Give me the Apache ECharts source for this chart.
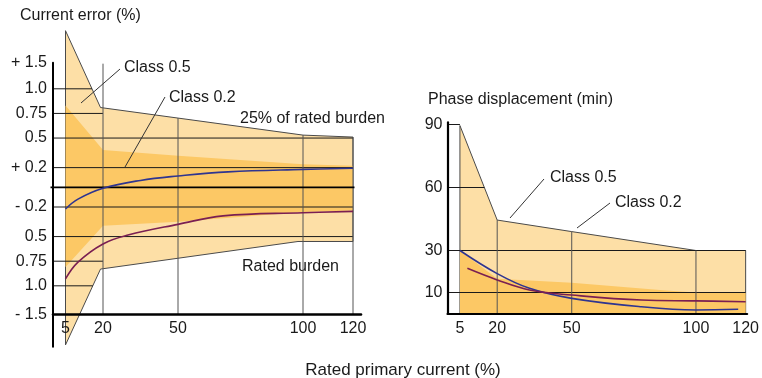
<!DOCTYPE html>
<html><head><meta charset="utf-8">
<script src="https://cdn.jsdelivr.net/npm/echarts@6/dist/echarts.min.js"></script>
<style>html,body{margin:0;padding:0;background:#fff}#c{width:762px;height:378px}</style>
</head><body><div id="c"></div>
<script>
// ---------------- data ----------------
const xTicks = [5, 20, 50, 100, 120];
const errTicks = [1.5, 1.0, 0.75, 0.5, 0.2, -0.2, -0.5, -0.75, -1.0, -1.5];
const errTickLabels = ['+ 1.5', '1.0', '0.75', '0.5', '+ 0.2', '- 0.2', '0.5', '0.75', '1.0', '- 1.5'];
const phaseTicks = [90, 60, 30, 10];
const phaseTickLabels = ['90', '60', '30', '10'];

// Current error (%)
const errClass05Upper = [[5, 1.59], [19, 0.81], [100, 0.53], [120, 0.51]];
const errClass05Lower = [[5, -1.60], [19, -0.83], [98, -0.55], [120, -0.55]];
const errClass02Upper = [[5, 0.83], [20, 0.38], [50, 0.32], [100, 0.235], [120, 0.22]];
const errClass02Lower = [[5, -0.81], [20, -0.39], [50, -0.35], [100, -0.25], [120, -0.235]];
const err25Burden = [[5, -0.22], [10, -0.12], [20, -0.01], [35, 0.07], [50, 0.115], [70, 0.157], [100, 0.182], [120, 0.193]];
const errRatedBurden = [[5, -0.93], [10, -0.76], [20, -0.575], [30, -0.485], [50, -0.376], [68, -0.29], [100, -0.258], [120, -0.244]];

// Phase displacement (min)
const phClass05Upper = [[5, 89.5], [20, 44.5], [50, 39], [100, 30], [120, 30]];
const phClass02Upper = [[5, 30], [20, 16.5], [50, 14.6], [88, 10.9], [100, 10], [120, 10]];
const phBlue = [[5, 30], [20, 19], [33, 12], [50, 7.2], [78, 3.2], [100, 1.7], [117, 2.0]];
const phPurple = [[8, 21.5], [20, 16], [33, 11.2], [50, 8.8], [78, 6.4], [100, 6.0], [120, 5.6]];

// ---------------- helpers ----------------
const FONT = "'Liberation Sans', Arial, Helvetica, sans-serif";
const LIGHT = '#FDDFA6', DARK = '#FCC865', EDGE = '#4a4a4a';
const BLUE = '#2f3590', PURPLE = '#7a1f52';
const ERR_AXIS_TOP = 1.265, ERR_AXIS_BASE = -1.293;

function interp(arr, x) {
  for (let i = 0; i < arr.length - 1; i++) {
    const a = arr[i], b = arr[i + 1];
    if (x >= a[0] && x <= b[0]) return a[1] + (b[1] - a[1]) * (x - a[0]) / (b[0] - a[0]);
  }
  return arr[arr.length - 1][1];
}
function invInterp(arr, y) {
  for (let i = 0; i < arr.length - 1; i++) {
    const a = arr[i], b = arr[i + 1];
    if ((y - a[1]) * (y - b[1]) <= 0) return a[0] + (b[0] - a[0]) * (y - a[1]) / (b[1] - a[1]);
  }
  return arr[0][0];
}
function polygonSeries(idx, pts, fill, stroke, z) {
  return {
    type: 'custom', coordinateSystem: 'cartesian2d', xAxisIndex: idx, yAxisIndex: idx,
    silent: true, z: z, clip: false, data: [pts[0]],
    renderItem: (params, api) => ({
      type: 'polygon',
      shape: { points: pts.map(p => api.coord(p)) },
      style: { fill: fill, stroke: stroke || 'none', lineWidth: 1 }
    })
  };
}
function segSeries(idx, segs, color, width, z) {
  return {
    type: 'custom', coordinateSystem: 'cartesian2d', xAxisIndex: idx, yAxisIndex: idx,
    silent: true, z: z, clip: false, data: [segs[0][0]],
    renderItem: (params, api) => ({
      type: 'group',
      children: segs.map(s => {
        const a = api.coord(s[0]), b = api.coord(s[1]);
        return { type: 'line', shape: { x1: a[0], y1: a[1], x2: b[0], y2: b[1] }, style: { stroke: color, lineWidth: width } };
      })
    })
  };
}
function curve(idx, data, color) {
  return {
    type: 'line', xAxisIndex: idx, yAxisIndex: idx, data: data, smooth: 0.4,
    showSymbol: false, silent: true, z: 6, lineStyle: { color: color, width: 1.6 }
  };
}

// ---------------- derived shapes ----------------
const errPoly05 = errClass05Upper.concat(errClass05Lower.slice().reverse());
const errPoly02 = errClass02Upper.concat(errClass02Lower.slice().reverse());
const phPoly05 = phClass05Upper.concat([[120, 0], [5, 0]]);
const phPoly02 = phClass02Upper.concat([[120, 0], [5, 0]]);

const errTickPos = errTicks.map(v => v >= 1.5 ? ERR_AXIS_TOP : (v <= -1.5 ? ERR_AXIS_BASE : v));

const errHGrid = [
  [[0, 1.0], [invInterp(errClass05Upper, 1.0), 1.0]],
  [[0, 0.75], [20, 0.75]],
  [[0, 0.5], [120, 0.5]],
  [[0, 0.2], [120, 0.2]],
  [[0, -0.2], [120, -0.2]],
  [[0, -0.5], [120, -0.5]],
  [[0, -0.75], [20, -0.75]],
  [[0, -1.0], [invInterp(errClass05Lower, -1.0), -1.0]]
];
const errZero = [[[-1, 0], [120.6, 0]]];
const errVGrid = [
  [[20, ERR_AXIS_TOP - 0.01], [20, ERR_AXIS_BASE]],
  [[50, interp(errClass05Upper, 50)], [50, ERR_AXIS_BASE]],
  [[100, interp(errClass05Upper, 100)], [100, ERR_AXIS_BASE]],
  [[120, interp(errClass05Upper, 120)], [120, ERR_AXIS_BASE]]
];
const phHGrid = [
  [[0, 90], [5, 90]],
  [[0, 60], [invInterp(phClass05Upper, 60), 60]],
  [[0, 30], [120, 30]],
  [[0, 10], [120, 10]]
];
const phVGrid = [
  [[20, interp(phClass05Upper, 20)], [20, 0]],
  [[50, interp(phClass05Upper, 50)], [50, 0]],
  [[100, interp(phClass05Upper, 100)], [100, 0]]
];

const labelStyle = { color: '#1a1a1a', fontSize: 16, fontFamily: FONT };

const option = {
  animation: false,
  grid: [
    { left: 53, top: 62.7, width: 308, height: 284 },
    { left: 447.5, top: 122.4, width: 301.5, height: 191.1 }
  ],
  xAxis: [
    { type: 'value', gridIndex: 0, min: 0, max: 123.2, offset: -32, z: 10,
      axisLine: { show: true, onZero: false, lineStyle: { color: '#000', width: 2.6 } },
      axisTick: { show: false }, splitLine: { show: false },
      axisLabel: Object.assign({ customValues: xTicks, margin: 6 }, labelStyle) },
    { type: 'value', gridIndex: 1, min: 0, max: 120.6, z: 10,
      axisLine: { show: true, onZero: false, lineStyle: { color: '#000', width: 2.2 } },
      axisTick: { show: false }, splitLine: { show: false },
      axisLabel: Object.assign({ customValues: xTicks, margin: 7 }, labelStyle) }
  ],
  yAxis: [
    { type: 'value', gridIndex: 0, min: -1.618, max: ERR_AXIS_TOP, z: 10,
      axisLine: { show: true, onZero: false, lineStyle: { color: '#000', width: 2 } },
      axisTick: { show: false }, splitLine: { show: false },
      axisLabel: Object.assign({
        customValues: errTickPos, margin: 6,
        formatter: v => {
          let best = 0, d = 1e9;
          errTickPos.forEach((p, i) => { if (Math.abs(p - v) < d) { d = Math.abs(p - v); best = i; } });
          return errTickLabels[best];
        }
      }, labelStyle) },
    { type: 'value', gridIndex: 1, min: 0, max: 91, z: 10,
      axisLine: { show: true, onZero: false, lineStyle: { color: '#000', width: 2.2 } },
      axisTick: { show: false }, splitLine: { show: false },
      axisLabel: Object.assign({
        customValues: phaseTicks, margin: 5,
        formatter: v => phaseTickLabels[phaseTicks.indexOf(v)]
      }, labelStyle) }
  ],
  series: [
    polygonSeries(0, errPoly05, LIGHT, EDGE, 1),
    polygonSeries(0, errPoly02, DARK, null, 2),
    segSeries(0, errHGrid, '#1a1a1a', 1, 3),
    segSeries(0, errVGrid, '#555', 1, 3),
    segSeries(0, errZero, '#000', 1.8, 3),
    curve(0, err25Burden, BLUE),
    curve(0, errRatedBurden, PURPLE),

    polygonSeries(1, phPoly05, LIGHT, EDGE, 1),
    polygonSeries(1, phPoly02, DARK, null, 2),
    segSeries(1, phHGrid, '#1a1a1a', 1, 3),
    segSeries(1, phVGrid, '#555', 1, 3),
    curve(1, phBlue, BLUE),
    curve(1, phPurple, PURPLE)
  ],
  graphic: [
    { type: 'text', x: 20, y: 16, style: { text: 'Current error (%)', font: '16px ' + FONT, fill: '#1a1a1a', verticalAlign: 'middle' } },
    { type: 'text', x: 124, y: 68, style: { text: 'Class 0.5', font: '16px ' + FONT, fill: '#1a1a1a', verticalAlign: 'middle' } },
    { type: 'text', x: 169, y: 98, style: { text: 'Class 0.2', font: '16px ' + FONT, fill: '#1a1a1a', verticalAlign: 'middle' } },
    { type: 'text', x: 240, y: 119, style: { text: '25% of rated burden', font: '16px ' + FONT, fill: '#1a1a1a', verticalAlign: 'middle' } },
    { type: 'text', x: 242, y: 267, style: { text: 'Rated burden', font: '16px ' + FONT, fill: '#1a1a1a', verticalAlign: 'middle' } },
    { type: 'text', x: 428, y: 100, style: { text: 'Phase displacement (min)', font: '16px ' + FONT, fill: '#1a1a1a', verticalAlign: 'middle' } },
    { type: 'text', x: 550, y: 178, style: { text: 'Class 0.5', font: '16px ' + FONT, fill: '#1a1a1a', verticalAlign: 'middle' } },
    { type: 'text', x: 615, y: 203, style: { text: 'Class 0.2', font: '16px ' + FONT, fill: '#1a1a1a', verticalAlign: 'middle' } },
    { type: 'text', x: 403, y: 370, style: { text: 'Rated primary current (%)', font: '17px ' + FONT, fill: '#1a1a1a', align: 'center', verticalAlign: 'middle' } },
    { type: 'line', shape: { x1: 81, y1: 103, x2: 120, y2: 69 }, style: { stroke: '#333', lineWidth: 1 }, z: 20 },
    { type: 'line', shape: { x1: 125, y1: 167, x2: 165, y2: 97 }, style: { stroke: '#333', lineWidth: 1 }, z: 20 },
    { type: 'line', shape: { x1: 510, y1: 218, x2: 544, y2: 179 }, style: { stroke: '#333', lineWidth: 1 }, z: 20 },
    { type: 'line', shape: { x1: 577, y1: 228, x2: 610, y2: 203 }, style: { stroke: '#333', lineWidth: 1 }, z: 20 }
  ]
};
const chart = echarts.init(document.getElementById('c'), null, { renderer: 'canvas' });
chart.setOption(option);
</script></body></html>
